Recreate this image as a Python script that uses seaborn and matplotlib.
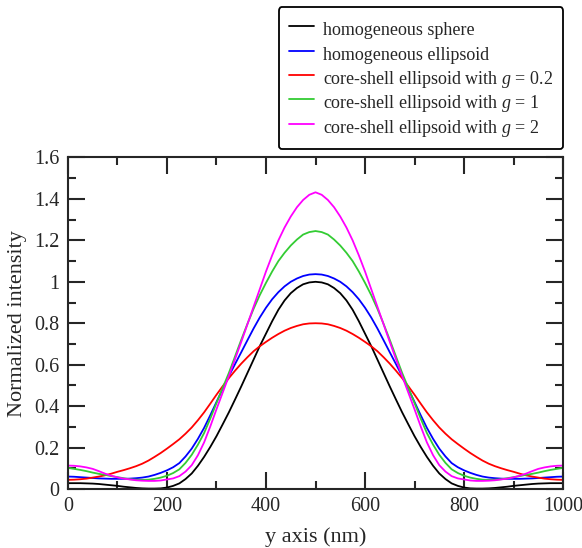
import pandas as pd
import matplotlib
matplotlib.use("Agg")
import matplotlib.pyplot as plt
from matplotlib.ticker import MultipleLocator, FuncFormatter
import seaborn as sns

# ----------------------------
# data (every 12.5 nm)
# ----------------------------
x_nm = [i * 12.5 for i in range(81)]

sphere = [0.028, 0.028, 0.028, 0.027, 0.026, 0.024, 0.021, 0.018, 0.015, 0.011,
          0.008, 0.005, 0.003, 0.002, 0.002, 0.003, 0.007, 0.015, 0.027, 0.048,
          0.075, 0.112, 0.155, 0.203, 0.255, 0.312, 0.370, 0.432, 0.495, 0.560,
          0.625, 0.690, 0.750, 0.810, 0.865, 0.910, 0.945, 0.970, 0.988, 0.997,
          1.000,
          0.997, 0.988, 0.970, 0.945, 0.910, 0.865, 0.810, 0.750, 0.690, 0.625,
          0.560, 0.495, 0.432, 0.370, 0.312, 0.255, 0.203, 0.155, 0.112, 0.075,
          0.048, 0.027, 0.015, 0.007, 0.003, 0.002, 0.002, 0.003, 0.005, 0.008,
          0.011, 0.015, 0.018, 0.021, 0.024, 0.026, 0.027, 0.028, 0.028, 0.028]

ellipsoid = [0.060, 0.059, 0.057, 0.055, 0.053, 0.051, 0.050, 0.049, 0.049, 0.049,
             0.050, 0.052, 0.055, 0.060, 0.068, 0.078, 0.090, 0.105, 0.125, 0.157,
             0.195, 0.242, 0.295, 0.356, 0.420, 0.483, 0.545, 0.603, 0.660, 0.718,
             0.775, 0.828, 0.875, 0.916, 0.950, 0.978, 1.000, 1.016, 1.028, 1.035,
             1.037,
             1.035, 1.028, 1.016, 1.000, 0.978, 0.950, 0.916, 0.875, 0.828, 0.775,
             0.718, 0.660, 0.603, 0.545, 0.483, 0.420, 0.356, 0.295, 0.242, 0.195,
             0.157, 0.125, 0.105, 0.090, 0.078, 0.068, 0.060, 0.055, 0.052, 0.050,
             0.049, 0.049, 0.049, 0.050, 0.051, 0.053, 0.055, 0.057, 0.059, 0.060]

cs_g02 = [0.044, 0.045, 0.047, 0.050, 0.055, 0.060, 0.066, 0.074, 0.083, 0.091,
          0.100, 0.110, 0.122, 0.137, 0.155, 0.174, 0.195, 0.217, 0.240, 0.267,
          0.297, 0.332, 0.370, 0.412, 0.455, 0.496, 0.535, 0.571, 0.605, 0.636,
          0.665, 0.689, 0.710, 0.730, 0.748, 0.764, 0.777, 0.787, 0.795, 0.799,
          0.800,
          0.799, 0.795, 0.787, 0.777, 0.764, 0.748, 0.730, 0.710, 0.689, 0.665,
          0.636, 0.605, 0.571, 0.535, 0.496, 0.455, 0.412, 0.370, 0.332, 0.297,
          0.267, 0.240, 0.217, 0.195, 0.174, 0.155, 0.137, 0.122, 0.110, 0.100,
          0.091, 0.083, 0.074, 0.066, 0.060, 0.055, 0.050, 0.047, 0.045, 0.044]

cs_g1 = [0.102, 0.097, 0.092, 0.086, 0.079, 0.073, 0.068, 0.062, 0.057, 0.052,
         0.047, 0.045, 0.044, 0.045, 0.049, 0.055, 0.064, 0.077, 0.095, 0.126,
         0.165, 0.214, 0.270, 0.340, 0.415, 0.488, 0.560, 0.640, 0.720, 0.797,
         0.870, 0.936, 0.995, 1.050, 1.100, 1.140, 1.175, 1.204, 1.228, 1.240,
         1.245,
         1.240, 1.228, 1.204, 1.175, 1.140, 1.100, 1.050, 0.995, 0.936, 0.870,
         0.797, 0.720, 0.640, 0.560, 0.488, 0.415, 0.340, 0.270, 0.214, 0.165,
         0.126, 0.095, 0.077, 0.064, 0.055, 0.049, 0.045, 0.044, 0.045, 0.047,
         0.052, 0.057, 0.062, 0.068, 0.073, 0.079, 0.086, 0.092, 0.097, 0.102]

cs_g2 = [0.113, 0.112, 0.109, 0.104, 0.097, 0.086, 0.074, 0.064, 0.056, 0.050,
         0.046, 0.042, 0.040, 0.039, 0.039, 0.041, 0.046, 0.051, 0.062, 0.084,
         0.115, 0.163, 0.225, 0.302, 0.385, 0.465, 0.545, 0.627, 0.710, 0.795,
         0.880, 0.965, 1.050, 1.128, 1.200, 1.262, 1.315, 1.360, 1.395, 1.420,
         1.432,
         1.420, 1.395, 1.360, 1.315, 1.262, 1.200, 1.128, 1.050, 0.965, 0.880,
         0.795, 0.710, 0.627, 0.545, 0.465, 0.385, 0.302, 0.225, 0.163, 0.115,
         0.084, 0.062, 0.051, 0.046, 0.041, 0.039, 0.039, 0.040, 0.042, 0.046,
         0.050, 0.056, 0.064, 0.074, 0.086, 0.097, 0.104, 0.109, 0.112, 0.113]

labels = ["homogeneous sphere",
          "homogeneous ellipsoid",
          "core-shell ellipsoid with $g$ = 0.2",
          "core-shell ellipsoid with $g$ = 1",
          "core-shell ellipsoid with $g$ = 2"]
colors = ["#000000", "#0000ff", "#ff0000", "#33cc33", "#ff00ff"]
series = [sphere, ellipsoid, cs_g02, cs_g1, cs_g2]

df = pd.concat(
    [pd.DataFrame({"y": x_nm, "intensity": vals, "model": lab})
     for lab, vals in zip(labels, series)],
    ignore_index=True,
)

# ----------------------------
# style
# ----------------------------
sns.set_style("ticks")
plt.rcParams["font.family"] = ["Liberation Serif", "DejaVu Serif"]
plt.rcParams["mathtext.fontset"] = "custom"
plt.rcParams["mathtext.rm"] = "Liberation Serif"
plt.rcParams["mathtext.it"] = "Liberation Serif:italic"

fig = plt.figure(figsize=(5.82, 5.48), dpi=100)
ax = fig.add_axes([0.1168, 0.1077, 0.8506, 0.6049])

sns.lineplot(data=df, x="y", y="intensity", hue="model", hue_order=labels,
             palette=dict(zip(labels, colors)), linewidth=1.3,
             errorbar=None, legend=False, ax=ax)

ax.set_xlim(0, 1000)
ax.set_ylim(0, 1.6)
ax.xaxis.set_major_locator(MultipleLocator(200))
ax.xaxis.set_minor_locator(MultipleLocator(100))
ax.yaxis.set_major_locator(MultipleLocator(0.2))
ax.yaxis.set_minor_locator(MultipleLocator(0.1))
ax.yaxis.set_major_formatter(FuncFormatter(lambda v, _: f"{v:g}"))
ax.tick_params(which="both", direction="in", top=True, right=True,
               width=1.5, labelsize=14.5, pad=6)
ax.tick_params(which="major", length=12)
ax.tick_params(which="minor", length=6)
for sp in ax.spines.values():
    sp.set_linewidth(1.5)

ax.set_xlabel("y axis (nm)", fontsize=16, labelpad=8)
ax.set_ylabel("Normalized intensity", fontsize=16, labelpad=5)

# legend sits above the axes in a rounded box
handles = ax.get_lines()[:len(labels)]
leg = ax.legend(handles, labels, loc="upper right",
                bbox_to_anchor=(0.968, 0.987), bbox_transform=fig.transFigure,
                borderaxespad=0, fontsize=13, frameon=True, fancybox=True,
                handlelength=1.4, handleheight=1.7, handletextpad=0.5,
                labelspacing=0.0, borderpad=0.56)
leg.get_frame().set_edgecolor("black")
leg.get_frame().set_linewidth(1.3)
leg.get_frame().set_alpha(1)

fig.savefig("out.png", dpi=100)
